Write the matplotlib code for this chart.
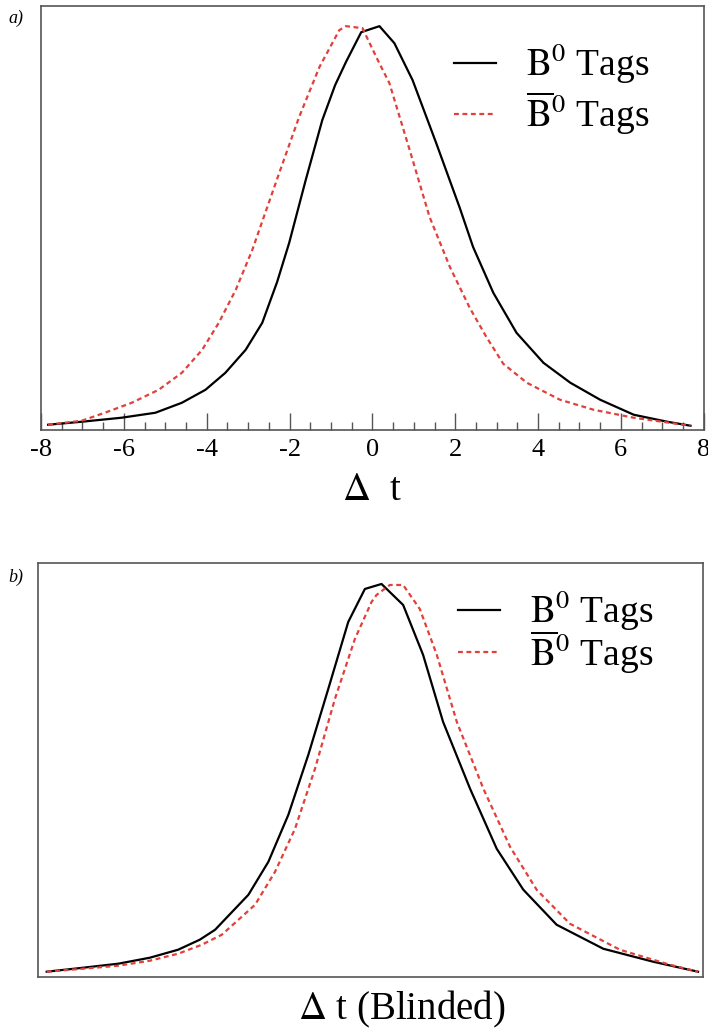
import numpy as np
import matplotlib
matplotlib.use('Agg')
import matplotlib.pyplot as plt

plt.rcParams['font.family'] = ['Liberation Serif', 'DejaVu Serif']
plt.rcParams['mathtext.fontset'] = 'stix'

# panel a) : Delta t distributions (arbitrary units, read off the picture)
t_b0_a = [-7.83, -7.02, -6.06, -5.24, -4.60, -4.03, -3.55, -3.06, -2.66, -2.30, -2.01,
          -1.61, -1.21, -0.90, -0.64, -0.27, 0.17, 0.53, 0.97, 1.54, 2.11, 2.43, 2.92,
          3.48, 4.13, 4.78, 5.50, 6.31, 7.12, 7.68]
y_b0_a = [5, 8, 12, 17, 27, 40, 57, 80, 107, 148, 187,
          250, 310, 345, 368, 398, 404, 387, 350, 287, 222, 183, 137,
          97, 67, 47, 30, 15, 8, 4]

t_b0bar_a = [-7.83, -7.02, -6.46, -5.81, -5.16, -4.60, -4.11, -3.71, -3.30, -2.90, -2.25,
             -1.77, -1.28, -0.80, -0.64, -0.24, 0.13, 0.41, 0.90, 1.38, 1.87, 2.35, 2.75,
             3.16, 3.73, 4.53, 5.34, 6.31, 7.68]
y_b0bar_a = [5, 9, 17, 27, 40, 57, 80, 107, 140, 180, 257,
             313, 363, 400, 404, 402, 370, 347, 280, 213, 163, 122, 93,
             66, 47, 30, 20, 12, 4]

# panel b) : blinded Delta t
t_b0_b = [-7.78, -6.90, -6.06, -5.30, -4.62, -4.10, -3.73, -2.93, -2.45, -1.97, -1.49,
          -1.01, -0.53, -0.13, 0.27, 0.79, 1.27, 1.75, 2.40, 3.04, 3.68, 4.48, 5.60,
          6.80, 7.88]
y_b0_b = [5, 9, 13, 19, 27, 37, 47, 82, 115, 162, 222,
          288, 355, 388, 393, 372, 322, 255, 188, 128, 87, 52, 28,
          15, 5]

t_b0bar_b = [-7.78, -6.90, -6.06, -5.30, -4.62, -4.05, -3.57, -2.77, -2.29, -1.81, -1.33,
             -0.85, -0.37, 0.03, 0.15, 0.47, 0.79, 1.19, 1.60, 2.08, 2.72, 3.36, 4.00,
             4.80, 6.00, 7.20, 7.88]
y_b0bar_b = [5, 8, 11, 16, 23, 32, 42, 72, 105, 148, 208,
             278, 338, 375, 382, 392, 392, 368, 322, 255, 188, 130, 87,
             53, 27, 12, 5]

legend_labels = [r'$\mathrm{B}^0$ Tags', r'$\overline{\mathrm{B}}^0$ Tags']
RED = '#e2403a'


def draw_panel(ax, t1, y1, t2, y2, ytop, legend_anchor, spacing):
    ax.plot(t1, y1, color='black', lw=1.6, label=legend_labels[0])
    ax.plot(t2, y2, color=RED, lw=1.6, dashes=(2.2, 1.6), label=legend_labels[1])
    ax.set_xlim(-8.0, 8.0)
    ax.set_ylim(0, ytop)
    ax.set_yticks([])
    for sp in ax.spines.values():
        sp.set_color('#555555')
        sp.set_linewidth(1.2)
    ax.legend(loc='upper left', bbox_to_anchor=legend_anchor, frameon=False,
              fontsize=27, handlelength=1.1, handletextpad=0.8,
              labelspacing=spacing, borderaxespad=0)


fig = plt.figure(figsize=(7.08, 10.33), dpi=100)

ax_a = fig.add_axes([0.058, 0.584, 0.936, 0.410])
draw_panel(ax_a, t_b0_a, y_b0_a, t_b0bar_a, y_b0bar_a, 424, (0.601, 0.951), 0.1)
ax_a.set_xticks(np.arange(-8, 9, 2))
ax_a.set_xticklabels([str(v) for v in range(-8, 9, 2)])
ax_a.set_xticks(np.arange(-8, 8.01, 0.5), minor=True)
ax_a.tick_params(axis='x', which='major', direction='in', length=12, width=1,
                 color='#555555', labelsize=19, pad=7)
ax_a.tick_params(axis='x', which='minor', direction='in', length=6, width=1,
                 color='#555555')
ax_a.set_xlabel(r'$\Delta$  t', fontsize=28)
ax_a.xaxis.set_label_coords(0.5, -0.10)

ax_b = fig.add_axes([0.053, 0.0545, 0.940, 0.4005])
draw_panel(ax_b, t_b0_b, y_b0_b, t_b0bar_b, y_b0bar_b, 414, (0.61, 0.975), -0.12)
ax_b.set_xticks([])
ax_b.set_xlabel(r'$\Delta$ t (Blinded)', fontsize=28)
ax_b.xaxis.set_label_coords(0.548, -0.03)

fig.text(0.012, 0.978, 'a)', fontsize=13, style='italic')
fig.text(0.012, 0.437, 'b)', fontsize=13, style='italic')

fig.savefig('out.png', dpi=100)
